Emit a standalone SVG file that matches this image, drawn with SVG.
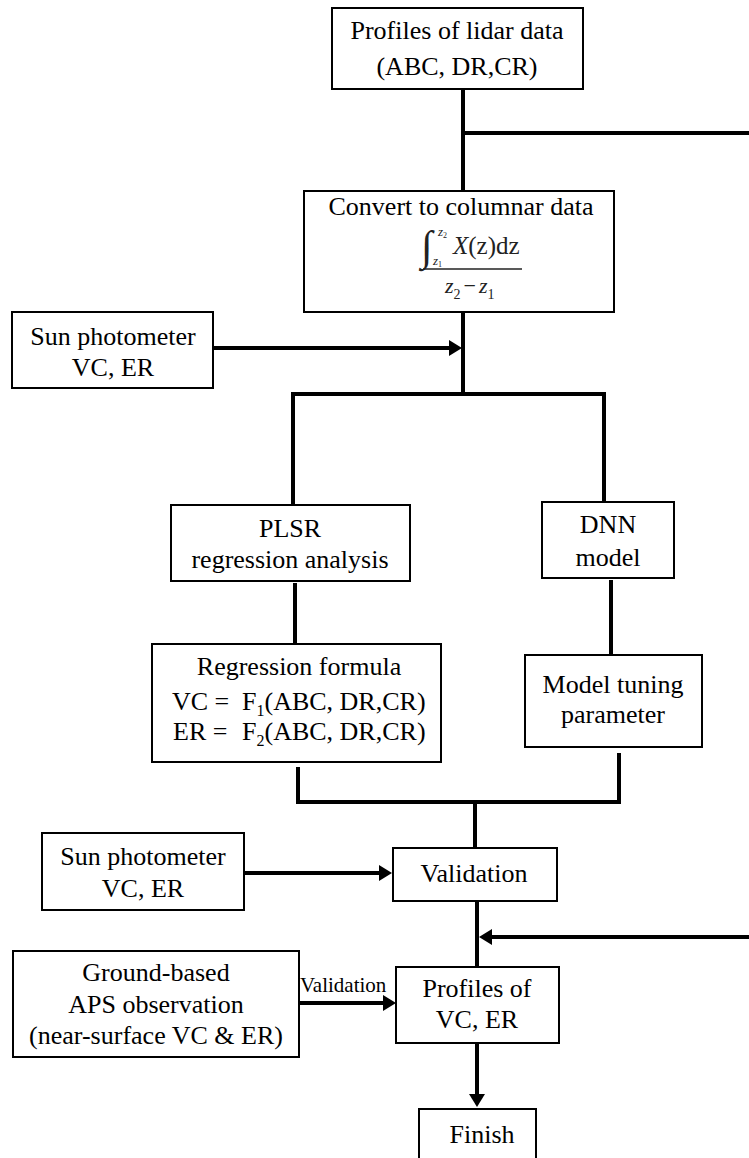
<svg xmlns="http://www.w3.org/2000/svg" width="749" height="1158" viewBox="0 0 749 1158">
<style>
.box{fill:#fff;stroke:#000;stroke-width:2}
.t{font-family:"Liberation Serif","Times New Roman",serif;font-size:26px;fill:#000;text-anchor:middle}
.s{font-family:"Liberation Serif","Times New Roman",serif;fill:#000}
.c{fill:none;stroke:#000;stroke-width:4}
.f{font-family:"Liberation Serif","Times New Roman",serif;fill:#222}
</style>
<defs>
<marker id="ah" markerUnits="userSpaceOnUse" markerWidth="14" markerHeight="16" refX="3" refY="8" orient="auto">
<path d="M0,0 L13,8 L0,16 z" fill="#000"/>
</marker>
</defs>
<rect width="749" height="1158" fill="#fff"/>
<g id="connectors">
<path class="c" d="M463,89 V190"/>
<path class="c" d="M463,133 H753 V937 H489" marker-end="url(#ah)"/>
<path class="c" d="M463,312 V394"/>
<path class="c" d="M213,348 H452" marker-end="url(#ah)"/>
<path class="c" d="M293,505 V394 H604 V502"/>
<path class="c" d="M295,583 V644"/>
<path class="c" d="M611,580 V655"/>
<path class="c" d="M298,767 V802 H619 V753"/>
<path class="c" d="M475,802 V848"/>
<path class="c" d="M244,873 H382" marker-end="url(#ah)"/>
<path class="c" d="M477,901 V967"/>
<path class="c" d="M299,1003 H386" marker-end="url(#ah)"/>
<text class="s" x="300" y="992" font-size="21">Validation</text>
<path class="c" d="M477,1043 V1097" marker-end="url(#ah)"/>
</g>
<g id="lidar">
<rect class="box" x="332" y="8" width="251" height="81"/>
<text class="t" x="457" y="39">Profiles of lidar data</text>
<text class="t" x="457" y="75">(ABC, DR,CR)</text>
</g>
<g id="convert">
<rect class="box" x="304" y="191" width="310" height="121"/>
<text class="t" x="461" y="215">Convert to columnar data</text>
<text class="f" x="421" y="260" font-size="42">∫</text>
<text class="f" x="438" y="236" font-size="13" font-style="italic">z<tspan font-size="8" font-style="normal" dy="2">2</tspan></text>
<text class="f" x="433" y="265" font-size="13" font-style="italic">z<tspan font-size="8" font-style="normal" dy="2">1</tspan></text>
<text class="f" x="453" y="254" font-size="25"><tspan font-style="italic">X</tspan>(z)dz</text>
<line x1="423" y1="269" x2="522" y2="269" stroke="#222" stroke-width="1.5"/>
<text class="f" x="445" y="293" font-size="22"><tspan font-style="italic">z</tspan><tspan font-size="14" dy="6">2</tspan><tspan dy="-6" dx="3">−</tspan><tspan dx="3" font-style="italic">z</tspan><tspan font-size="14" dy="6">1</tspan></text>
</g>
<g id="sun1">
<rect class="box" x="12" y="312" width="201" height="76"/>
<text class="t" x="113" y="345">Sun photometer</text>
<text class="t" x="113" y="376">VC, ER</text>
</g>
<g id="plsr">
<rect class="box" x="171" y="505" width="239" height="76"/>
<text class="t" x="290" y="537">PLSR</text>
<text class="t" x="290" y="568">regression analysis</text>
</g>
<g id="dnn">
<rect class="box" x="542" y="502" width="132" height="76"/>
<text class="t" x="608" y="533">DNN</text>
<text class="t" x="608" y="566">model</text>
</g>
<g id="regression">
<rect class="box" x="152" y="644" width="289" height="118"/>
<text class="t" x="299" y="675">Regression formula</text>
<text class="s" x="172" y="710" font-size="26">VC = <tspan x="242">F</tspan><tspan font-size="16" dy="6">1</tspan><tspan dy="-6">(ABC, DR,CR)</tspan></text>
<text class="s" x="173" y="740" font-size="26">ER = <tspan x="242">F</tspan><tspan font-size="16" dy="6">2</tspan><tspan dy="-6">(ABC, DR,CR)</tspan></text>
</g>
<g id="tuning">
<rect class="box" x="525" y="655" width="177" height="92"/>
<text class="t" x="613" y="693">Model tuning</text>
<text class="t" x="613" y="723">parameter</text>
</g>
<g id="sun2">
<rect class="box" x="42" y="833" width="202" height="77"/>
<text class="t" x="143" y="865">Sun photometer</text>
<text class="t" x="143" y="897">VC, ER</text>
</g>
<g id="validation">
<rect class="box" x="393" y="848" width="164" height="53"/>
<text class="t" x="474" y="882">Validation</text>
</g>
<g id="ground">
<rect class="box" x="13" y="951" width="286" height="106"/>
<text class="t" x="156" y="981">Ground-based</text>
<text class="t" x="156" y="1013">APS observation</text>
<text class="t" x="156" y="1044">(near-surface VC &amp; ER)</text>
</g>
<g id="profiles">
<rect class="box" x="396" y="967" width="163" height="76"/>
<text class="t" x="477" y="997">Profiles of</text>
<text class="t" x="477" y="1028">VC, ER</text>
</g>
<g id="finish">
<rect class="box" x="419" y="1109" width="117" height="52"/>
<text class="t" x="482" y="1143">Finish</text>
</g>
</svg>
